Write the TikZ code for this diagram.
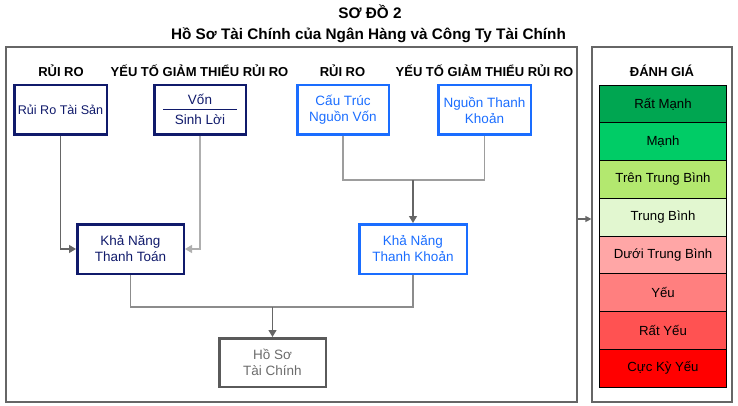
\documentclass[tikz,border=0pt]{standalone}
\usepackage{fontspec}
\setmainfont{Liberation Sans}
\usetikzlibrary{arrows.meta,positioning}
\definecolor{navy}{HTML}{101A6B}
\definecolor{bblue}{HTML}{1A6DFF}
\definecolor{bgray}{HTML}{5A5A5A}
\definecolor{lgray}{HTML}{8C8C8C}
\definecolor{fgray}{HTML}{666666}
\definecolor{r1}{HTML}{00A651}
\definecolor{r2}{HTML}{00CC66}
\definecolor{r3}{HTML}{B3E86F}
\definecolor{r4}{HTML}{E2F7D0}
\definecolor{r5}{HTML}{FFA6A6}
\definecolor{r6}{HTML}{FF7F7F}
\definecolor{r7}{HTML}{FF5252}
\definecolor{r8}{HTML}{FF0000}
\tikzset{
  frame/.style={draw=fgray, line width=1.2pt, inner sep=0pt},
  boxbase/.style={draw, line width=2.5pt, minimum height=49.5pt, align=center, inner sep=0pt,
    font=\fontsize{13.5}{16}\selectfont},
  navybox/.style={boxbase, draw=navy, text=navy},
  bluebox/.style={boxbase, draw=bblue, text=bblue},
  graybox/.style={boxbase, draw=bgray, text=bgray!90},
  header/.style={font=\bfseries\fontsize{13}{15}\selectfont, inner sep=0pt},
  conn/.style={draw=lgray, line width=1.2pt},
  arr/.style={conn, -{Triangle[length=7pt,width=8pt]}, color=fgray},
  rate/.style={draw=black, line width=1pt, minimum width=127pt, minimum height=37.75pt, inner sep=0pt,
    font=\fontsize{13.2}{15}\selectfont},
}
\begin{document}
\begin{tikzpicture}[x=1pt,y=-1pt]
\useasboundingbox (0,0) rectangle (738,406);
% titles
\node[font=\bfseries\fontsize{15.3}{17}\selectfont] (t1) at (370,12) {SƠ ĐỒ 2};
\node[font=\bfseries\fontsize{15.3}{17}\selectfont] (t2) at (368.5,35) {Hồ Sơ Tài Chính của Ngân Hàng và Công Ty Tài Chính};
% frames
\node[frame, minimum width=571pt, minimum height=355pt] (lf) at (291.5,224.5) {};
\node[frame, minimum width=140pt, minimum height=355pt] (rf) at (662,224.5) {};
% headers
\node[header] (h1) at (61,71) {RỦI RO};
\node[header] (h2) at (199.5,71) {YẾU TỐ GIẢM THIỂU RỦI RO};
\node[header] (h3) at (342.5,71) {RỦI RO};
\node[header] (h4) at (484.5,71) {YẾU TỐ GIẢM THIỂU RỦI RO};
\node[header] (h5) at (662,71) {ĐÁNH GIÁ};
% boxes
\node[navybox, minimum width=92.5pt, font=\fontsize{12.6}{16}\selectfont] (rr) at (60.5,110) {Rủi Ro Tài Sản};
\node[navybox, minimum width=91.5pt] (vs) at (200,110) {};
\node[font=\fontsize{13.5}{15}\selectfont, text=navy] (von) at (200,99.5) {Vốn};
\node[font=\fontsize{13.5}{15}\selectfont, text=navy] (sl) at (200,120) {Sinh Lời};
\draw[navy, line width=1pt] ([xshift=10pt]vs.west) -- ([xshift=-10pt]vs.east);
\node[bluebox, minimum width=91.5pt] (ct) at (343,110) {Cấu Trúc\\Nguồn Vốn};
\node[bluebox, minimum width=92.5pt] (nt) at (484.5,110) {Nguồn Thanh\\Khoản};
\node[navybox, minimum width=106.5pt] (ktt) at (130.5,249) {Khả Năng\\Thanh Toán};
\node[bluebox, minimum width=107.5pt] (ktk) at (413,249) {Khả Năng\\Thanh Khoản};
\node[graybox, minimum width=106.5pt, minimum height=48.5pt] (hs) at (272.5,362.5) {Hồ Sơ\\Tài Chính};
% connectors
\draw[arr] (rr.south) |- (ktt.west);
\draw[arr, draw=lgray!70] (vs.south) |- (ktt.east);
\coordinate (j1) at (413,180);
\draw[conn, draw=lgray!85] (ct.south) |- (j1) -| (nt.south);
\draw[arr] (j1) -- (ktk.north);
\coordinate (j2) at (272.5,307);
\draw[conn] (ktt.south) |- (j2) -| (ktk.south);
\draw[arr] (j2) -- (hs.north);
\coordinate (a1) at (577.6,219);
\coordinate (a2) at (591.4,219);
\draw[arr, -{Triangle[length=6pt,width=6pt]}] (a1) -- (a2);
% ratings
\node[rate, fill=r1] (s1) at (663,104) {Rất Mạnh};
\node[rate, fill=r2, below=-1pt of s1] (s2) {Mạnh};
\node[rate, fill=r3, below=-1pt of s2] (s3) {Trên Trung Bình};
\node[rate, fill=r4, below=-1pt of s3] (s4) {Trung Bình};
\node[rate, fill=r5, below=-1pt of s4] (s5) {Dưới Trung Bình};
\node[rate, fill=r6, below=-1pt of s5] (s6) {Yếu};
\node[rate, fill=r7, below=-1pt of s6] (s7) {Rất Yếu};
\node[rate, fill=r8, below=-1pt of s7] (s8) {Cực Kỳ Yếu};
\end{tikzpicture}
\end{document}
